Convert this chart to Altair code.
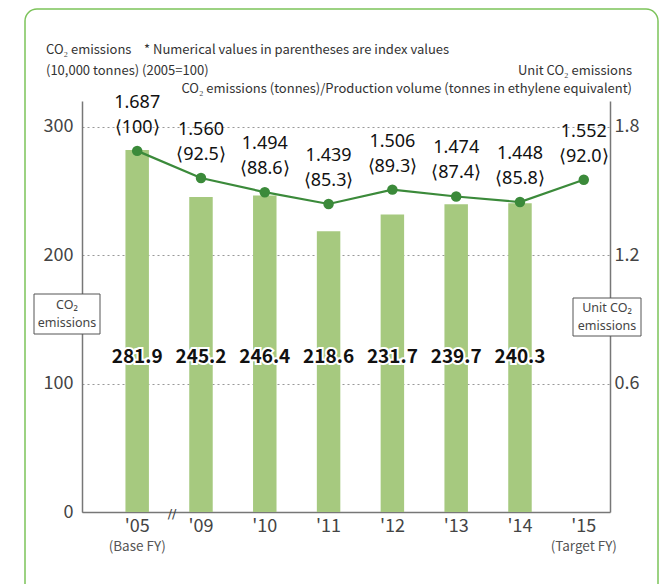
import altair as alt
import pandas as pd

years = ["'05", "'09", "'10", "'11", "'12", "'13", "'14", "'15"]
co2 = [281.9, 245.2, 246.4, 218.6, 231.7, 239.7, 240.3, None]
unit = [1.687, 1.560, 1.494, 1.439, 1.506, 1.474, 1.448, 1.552]
index_vals = ["100", "92.5", "88.6", "85.3", "89.3", "87.4", "85.8", "92.0"]
notes = ["(Base FY)", "", "", "", "", "", "", "(Target FY)"]

FONT = "Noto Sans CJK JP"
NUMFONT = "Noto Sans CJK JP"
LBLFONT = "Noto Sans"
BAR = "#a6c97f"
LINE = "#3b8a3a"
GRAY = "#777777"
TXT = "#333333"

df = pd.DataFrame({"year": years, "co2": co2, "unit": unit, "idx": index_vals, "note": notes})
df["lbl"] = [f"{v:.3f}" + "\n" + "\u27e8" + s + "\u27e9" for v, s in zip(unit, index_vals)]

xscale = alt.Scale(domain=years, paddingInner=0.632, paddingOuter=0.454, align=0.75)
X = alt.X("year:N", sort=years, scale=xscale,
          axis=alt.Axis(title=None, labelAngle=0, ticks=False, domainColor=GRAY, domainWidth=1.5,
                        labelFontSize=18, labelColor="#444", labelPadding=5, labelFont=FONT))

bars = alt.Chart(df).mark_bar(color=BAR).encode(
    x=X,
    y=alt.Y("co2:Q", scale=alt.Scale(domain=[0, 320], nice=False),
            axis=alt.Axis(values=[0, 100, 200, 300], title=None, ticks=False, grid=True,
                          gridDash=[2, 3], gridColor="#999", gridWidth=1,
                          domainColor=GRAY, domainWidth=1.5, labelFontSize=18,
                          labelColor="#444", labelPadding=9, labelFont=FONT)),
)

uscale = alt.Scale(domain=[0, 1.92], nice=False)
line = alt.Chart(df).mark_line(color=LINE, strokeWidth=2.2).encode(
    x=X,
    y=alt.Y("unit:Q", scale=uscale,
            axis=alt.Axis(orient="right", values=[0.6, 1.2, 1.8], title=None, ticks=False, grid=False,
                          domainColor=GRAY, domainWidth=1.5, labelFontSize=18, labelColor="#444",
                          labelPadding=4, labelFont=FONT, format=".1f")),
)
pts = alt.Chart(df).mark_point(filled=True, color=LINE, size=110, opacity=1).encode(
    x=X, y=alt.Y("unit:Q", scale=uscale, axis=None))

unit_lbl = alt.Chart(df).mark_text(font=LBLFONT, fontSize=18, color="#111", dy=-48,
                                   lineBreak="\n", lineHeight=25, baseline="middle").encode(
    x=X, y=alt.Y("unit:Q", scale=uscale, axis=None), text="lbl:N")

bar_halo = alt.Chart(df).transform_filter("datum.co2 != null").mark_text(
    font=NUMFONT, fontSize=19, fontWeight="bold", color="white", stroke="white", strokeWidth=4).encode(
    x=X, y=alt.value(256), text=alt.Text("co2:Q", format=".1f"))
bar_lbl = alt.Chart(df).transform_filter("datum.co2 != null").mark_text(
    font=NUMFONT, fontSize=19, fontWeight="bold", color="#111").encode(
    x=X, y=alt.value(256), text=alt.Text("co2:Q", format=".1f"))

sub_lbl = alt.Chart(df).mark_text(font=FONT, fontSize=13.5, color="#555").encode(
    x=X, y=alt.value(446), text="note:N")

one = pd.DataFrame({"k": [0]})
frame = alt.Chart(one).mark_rect(fillOpacity=0, stroke="#7cc35a", strokeWidth=1.5, cornerRadius=12).encode(
    x=alt.value(-57), x2=alt.value(576), y=alt.value(-92), y2=alt.value(495))

hdr_left = pd.DataFrame({"t": ["CO\u2082 emissions",
                                "* Numerical values in parentheses are index values",
                                "(10,000 tonnes) (2005=100)"],
                         "xx": [-36, 62, -36],
                         "yy": [-51, -51, -30]})
hdr_l = alt.Chart(hdr_left).mark_text(font=FONT, fontSize=13, color=TXT, align="left", baseline="middle").encode(
    x=alt.X("xx:Q", scale=None), y=alt.Y("yy:Q", scale=None), text="t:N")
hdr_right = pd.DataFrame({"t": ["Unit CO\u2082 emissions",
                                 "CO\u2082 emissions (tonnes)/Production volume (tonnes in ethylene equivalent)"],
                          "yy": [-30, -12]})
hdr_r = alt.Chart(hdr_right).mark_text(font=FONT, fontSize=13, color=TXT, align="right", baseline="middle").encode(
    x=alt.value(550), y=alt.Y("yy:Q", scale=None), text="t:N")

boxes = pd.DataFrame({"x1": [-48, 491], "x2": [18, 559], "y1": [193, 197], "y2": [233, 235]})
box = alt.Chart(boxes).mark_rect(fill="white", stroke="#555", strokeWidth=1).encode(
    x=alt.X("x1:Q", scale=None), x2="x2:Q", y=alt.Y("y1:Q", scale=None), y2="y2:Q")
box_txt_df = pd.DataFrame({"t": ["CO\u2082\nemissions", "Unit CO\u2082\nemissions"],
                           "xx": [-15, 525], "yy": [204, 207]})
box_txt = alt.Chart(box_txt_df).mark_text(font="Noto Sans", fontSize=12.5, color="#444", baseline="middle",
                                          lineBreak="\n", lineHeight=18).encode(
    x=alt.X("xx:Q", scale=None), y=alt.Y("yy:Q", scale=None), text="t:N")

brk = alt.Chart(one).mark_text(font="DejaVu Sans", fontSize=13, color="#444", text="//").encode(
    x=alt.value(90), y=alt.value(413))

chart = alt.layer(
    frame, bars, line, pts, bar_halo, bar_lbl, unit_lbl, sub_lbl,
    hdr_l, hdr_r, box, box_txt, brk
).resolve_scale(y="independent", x="shared").properties(
    width=528, height=411,
    padding={"left": 74, "top": 93, "right": 51, "bottom": 80},
    autosize=alt.AutoSizeParams(type="none"),
    background="white",
).configure_view(stroke=None)

chart.save("out.html", embed_options={"renderer": "svg", "actions": False})
